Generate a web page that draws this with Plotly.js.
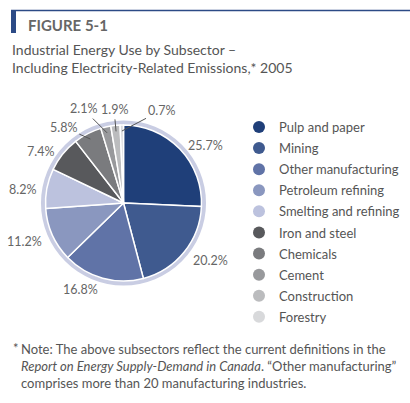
<!DOCTYPE html>
<html><head><meta charset="utf-8">
<script src="https://cdn.plot.ly/plotly-3.0.1.min.js"></script>
<style>html,body{margin:0;padding:0;background:#fff}#chart{width:410px;height:403px}</style>
</head><body><div id="chart"></div>
<script>
const categories = ["Pulp and paper","Mining","Other manufacturing","Petroleum refining","Smelting and refining","Iron and steel","Chemicals","Cement","Construction","Forestry"];
const shares = [25.7, 20.2, 16.8, 11.2, 8.2, 7.4, 5.8, 2.1, 1.9, 0.7];
const colors = ["#1f3f79","#3f5a8f","#6073a7","#8a97bf","#bcc2de","#58595c","#7a7b7e","#98999c","#bbbcbe","#d8d9db"];
const pctLabels = shares.map(v => v.toFixed(1) + "%");
// pixel offsets of the labels that use a leader line (null = placed radially)
const labelOffsets = [null, null, null, null, null, null, [-27,-12], [-24,-24], [-2,-22], [40,-21]];

const FONT = "Lato, 'Open Sans', sans-serif";
const W = 410, H = 403;
const cx = 123.5, cy = 203, r = 78, rr = 82.5;
function dom(rad){ return {x:[(cx-rad)/W,(cx+rad)/W], y:[(H-cy-rad)/H,(H-cy+rad)/H]}; }
const px = x => x/W, py = y => 1 - y/H;

const traces = [];
traces.push({type:'pie', values:[1], labels:['ring'], domain:dom(rr), marker:{colors:['#c9cde3'], line:{width:0}},
  textinfo:'none', hoverinfo:'skip', showlegend:false, sort:false});
traces.push({type:'pie', values:shares, labels:categories, textinfo:'none',
  sort:false, direction:'clockwise', rotation:0, domain:dom(r),
  marker:{colors:colors, line:{color:'#ffffff', width:1.5}}, showlegend:false, automargin:false});
categories.forEach((c,i)=>{
  traces.push({type:'scatter', mode:'markers', x:[null], y:[null], name:c, legendgroup:'g'+i,
    marker:{symbol:'circle', size:12, color:colors[i]}, hoverinfo:'skip'});
});

const total = shares.reduce((a,b)=>a+b,0);
let cum = 0;
const labelAnns = shares.map((v,i)=>{
  const a = (cum + v/2)/total*2*Math.PI; cum += v;
  const s = Math.sin(a), c = Math.cos(a);
  const lf = {family:FONT, size:12.5, color:'#666'};
  if (labelOffsets[i]) {
    const R = 72;
    return {text:pctLabels[i], xref:'paper', yref:'paper', x:px(cx+R*s), y:py(cy-R*c),
      ax:labelOffsets[i][0], ay:labelOffsets[i][1], showarrow:true, arrowhead:0, arrowwidth:1,
      arrowcolor:'#555', standoff:0, startstandoff:1, font:lf};
  }
  const R = 87;
  return {text:pctLabels[i], xref:'paper', yref:'paper', x:px(cx+R*s), y:py(cy-R*c+3),
    xanchor: s>0.1?'left':(s<-0.1?'right':'center'), yanchor:'middle', showarrow:false, font:lf};
});

const layout = {
  width:W, height:H, margin:{l:0,r:0,t:0,b:0}, paper_bgcolor:'#fff', plot_bgcolor:'#fff',
  xaxis:{visible:false}, yaxis:{visible:false},
  showlegend:true,
  legend:{x:px(239), y:py(112), xanchor:'left', yanchor:'top', font:{family:FONT, size:13, color:'#555'},
    tracegroupgap:1.2, itemclick:false, bgcolor:'rgba(0,0,0,0)'},
  shapes:[
    {type:'line', xref:'paper', yref:'paper', x0:px(11), x1:1, y0:py(10.5), y1:py(10.5), line:{color:'#2c4a86', width:1.5}},
    {type:'rect', xref:'paper', yref:'paper', x0:px(11), x1:px(16), y0:py(33), y1:py(10), fillcolor:'#2c4a86', line:{width:0}}
  ],
  annotations:[
    {text:'<b>FIGURE 5-1</b>', xref:'paper', yref:'paper', x:px(26), y:py(25), xanchor:'left', yanchor:'middle', showarrow:false,
      font:{family:FONT, size:15, color:'#666'}},
    {text:'Industrial Energy Use by Subsector –<br>Including Electricity-Related Emissions,* 2005', xref:'paper', yref:'paper',
      x:px(10), y:py(59), xanchor:'left', yanchor:'middle', align:'left', showarrow:false,
      font:{family:FONT, size:14, color:'#555'}},
    {text:'*', xref:'paper', yref:'paper', x:px(11), y:py(348), xanchor:'left', yanchor:'middle', showarrow:false,
      font:{family:FONT, size:13, color:'#555'}},
    {text:'Note: The above subsectors reflect the current definitions in the<br><i>Report on Energy Supply-Demand in Canada</i>. “Other manufacturing”<br>comprises more than 20 manufacturing industries.',
      xref:'paper', yref:'paper', x:px(19), y:py(365.5), xanchor:'left', yanchor:'middle', align:'left', showarrow:false,
      font:{family:FONT, size:13, color:'#555'}}
  ].concat(labelAnns)
};
Plotly.newPlot('chart', traces, layout, {displayModeBar:false, staticPlot:true});
</script></body></html>
